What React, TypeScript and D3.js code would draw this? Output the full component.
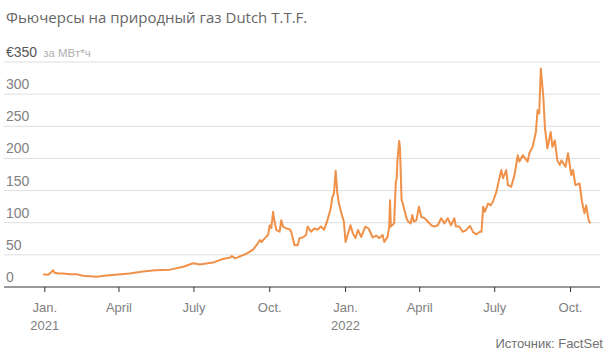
import React from "react";
import * as d3 from "d3";

const TITLE = "Фьючерсы на природный газ Dutch T.T.F.";
const UNIT_MAIN = "€350";
const UNIT_SUB = "за МВт*ч";
const SOURCE = "Источник: FactSet";

const yTicks = [0, 50, 100, 150, 200, 250, 300, 350];
const xTickDates = ["2021-01-01", "2021-04-01", "2021-07-01", "2021-10-01", "2022-01-01", "2022-04-01", "2022-07-01", "2022-10-01"];
const xTickLabels = ["Jan.", "April", "July", "Oct.", "Jan.", "April", "July", "Oct."];
const xTickYears = ["2021", "", "", "", "2022", "", "", ""];

const dates = [
  "2020-12-30", "2021-01-05", "2021-01-08", "2021-01-11", "2021-01-13", "2021-01-18", "2021-01-23", "2021-02-01",
  "2021-02-08", "2021-02-16", "2021-03-05", "2021-03-17", "2021-04-14", "2021-04-30", "2021-05-15", "2021-06-02",
  "2021-06-18", "2021-06-30", "2021-07-08", "2021-07-24", "2021-08-05", "2021-08-14", "2021-08-16", "2021-08-20",
  "2021-08-23", "2021-09-03", "2021-09-11", "2021-09-15", "2021-09-19", "2021-09-21", "2021-09-25", "2021-09-29",
  "2021-10-01", "2021-10-03", "2021-10-05", "2021-10-07", "2021-10-09", "2021-10-13", "2021-10-15", "2021-10-17",
  "2021-10-21", "2021-10-25", "2021-10-27", "2021-10-31", "2021-11-04", "2021-11-06", "2021-11-10", "2021-11-14",
  "2021-11-16", "2021-11-20", "2021-11-24", "2021-11-28", "2021-12-02", "2021-12-06", "2021-12-10", "2021-12-14",
  "2021-12-16", "2021-12-18", "2021-12-20", "2021-12-22", "2021-12-24", "2021-12-27", "2021-12-30", "2022-01-01",
  "2022-01-04", "2022-01-07", "2022-01-10", "2022-01-13", "2022-01-16", "2022-01-20", "2022-01-25", "2022-01-29",
  "2022-02-03", "2022-02-07", "2022-02-11", "2022-02-15", "2022-02-17", "2022-02-21", "2022-02-23", "2022-02-24",
  "2022-02-25", "2022-03-01", "2022-03-03", "2022-03-04", "2022-03-05", "2022-03-07", "2022-03-08", "2022-03-10",
  "2022-03-11", "2022-03-13", "2022-03-16", "2022-03-18", "2022-03-21", "2022-03-23", "2022-03-25", "2022-03-28",
  "2022-03-31", "2022-04-03", "2022-04-07", "2022-04-11", "2022-04-15", "2022-04-19", "2022-04-23", "2022-04-27",
  "2022-05-01", "2022-05-05", "2022-05-09", "2022-05-13", "2022-05-15", "2022-05-19", "2022-05-23", "2022-05-27",
  "2022-06-01", "2022-06-05", "2022-06-09", "2022-06-13", "2022-06-15", "2022-06-17", "2022-06-19", "2022-06-23",
  "2022-06-26", "2022-06-29", "2022-07-03", "2022-07-09", "2022-07-11", "2022-07-15", "2022-07-17", "2022-07-21",
  "2022-07-25", "2022-07-29", "2022-07-31", "2022-08-04", "2022-08-10", "2022-08-12", "2022-08-16", "2022-08-20",
  "2022-08-22", "2022-08-24", "2022-08-26", "2022-08-29", "2022-08-31", "2022-09-03", "2022-09-07", "2022-09-09",
  "2022-09-12", "2022-09-15", "2022-09-18", "2022-09-20", "2022-09-25", "2022-09-28", "2022-10-02", "2022-10-04",
  "2022-10-07", "2022-10-12", "2022-10-15", "2022-10-18", "2022-10-20", "2022-10-23", "2022-10-25",
];

const prices = [
  20, 19, 22, 26, 22, 21, 21, 20,
  20, 17.5, 16, 18, 21, 24, 26, 27,
  31.5, 37, 35, 38, 43.5, 46, 48, 44.6,
  46, 52, 58.6, 65, 73, 70, 76, 81,
  96, 92, 117, 101, 88.6, 86, 104, 94,
  91, 90, 86, 65, 65, 76, 77, 81,
  94, 86, 91, 89, 94, 89, 104, 122,
  140, 146, 181, 146, 130, 114.5, 101.5, 70,
  83, 96, 83, 76, 88.6, 78, 94, 91,
  77, 80, 76, 81, 70, 78, 94, 135,
  94, 99, 164, 168, 197, 227, 218, 135,
  132, 122, 107, 101.5, 99, 112, 101.5, 104,
  125, 109, 107, 101.5, 96, 94, 96, 107,
  99, 107, 96, 107, 94, 94, 86, 88,
  95, 85, 82, 86, 86, 125, 117, 130,
  127, 133, 148, 182, 169, 182, 158.5, 156,
  174, 205, 195, 205, 195, 208, 218, 241,
  275, 270, 340, 296, 247, 215.6, 241, 218,
  228, 197, 190, 197, 187, 208, 174, 182,
  158.5, 161, 132.6, 114.5, 127, 104, 99,
];

const W = 612;
const H = 358;
const LEFT = 4;
const RIGHT = 600;
const Y0 = 287;
const Y350 = 62;
const X_START = 44.8;
const X_END = 570.5;

export default function App() {
  const parse = d3.timeParse("%Y-%m-%d");
  const data = dates.map((d, i) => ({ date: parse(d) as Date, value: prices[i] }));

  const x = d3.scaleTime()
    .domain([parse(xTickDates[0]) as Date, parse(xTickDates[xTickDates.length - 1]) as Date])
    .range([X_START, X_END]);
  const y = d3.scaleLinear().domain([0, 350]).range([Y0, Y350]);

  const line = d3.line<{ date: Date; value: number }>()
    .x((d) => x(d.date))
    .y((d) => y(d.value))
    .curve(d3.curveLinear);

  const axisFont = "'Liberation Sans', Arial, sans-serif";

  return (
    <svg width={W} height={H} style={{ position: "absolute", left: 0, top: 0, background: "#fff" }}>
      <rect x={0} y={0} width={W} height={H} fill="#fff" />
      <text x={6} y={23} fontFamily="'Open Sans', sans-serif" fontSize={15} fill="#666">
        {TITLE}
      </text>
      {yTicks.map((t) => (
        <line
          key={"g" + t}
          x1={LEFT}
          x2={RIGHT}
          y1={y(t)}
          y2={y(t)}
          stroke={t === 0 ? "#333" : "#dedede"}
          strokeWidth={1}
        />
      ))}
      {yTicks.map((t) =>
        t === 350 ? (
          <text key={"l" + t} x={6} y={y(t) - 5} fontFamily={axisFont} fontSize={14}>
            <tspan fill="#555">{UNIT_MAIN}</tspan>
            <tspan dx={6} fill="#b0b0b0" fontSize={11.5}>{UNIT_SUB}</tspan>
          </text>
        ) : (
          <text key={"l" + t} x={6} y={y(t) - 5} fontFamily={axisFont} fontSize={14} fill="#808080">
            {t}
          </text>
        )
      )}
      {xTickDates.map((d, i) => {
        const px = x(parse(d) as Date);
        return (
          <g key={"x" + d}>
            <line x1={px} x2={px} y1={Y0} y2={Y0 + 5} stroke="#333" strokeWidth={1} />
            <text x={px} y={312} textAnchor="middle" fontFamily={axisFont} fontSize={13} fill="#808080">
              {xTickLabels[i]}
            </text>
            {xTickYears[i] && (
              <text x={px} y={330} textAnchor="middle" fontFamily={axisFont} fontSize={13} fill="#808080">
                {xTickYears[i]}
              </text>
            )}
          </g>
        );
      })}
      <path d={line(data) || ""} fill="none" stroke="#f0914a" strokeWidth={2} strokeLinejoin="round" />
      <text x={603} y={348} textAnchor="end" fontFamily={axisFont} fontSize={13} fill="#707070">
        {SOURCE}
      </text>
    </svg>
  );
}
